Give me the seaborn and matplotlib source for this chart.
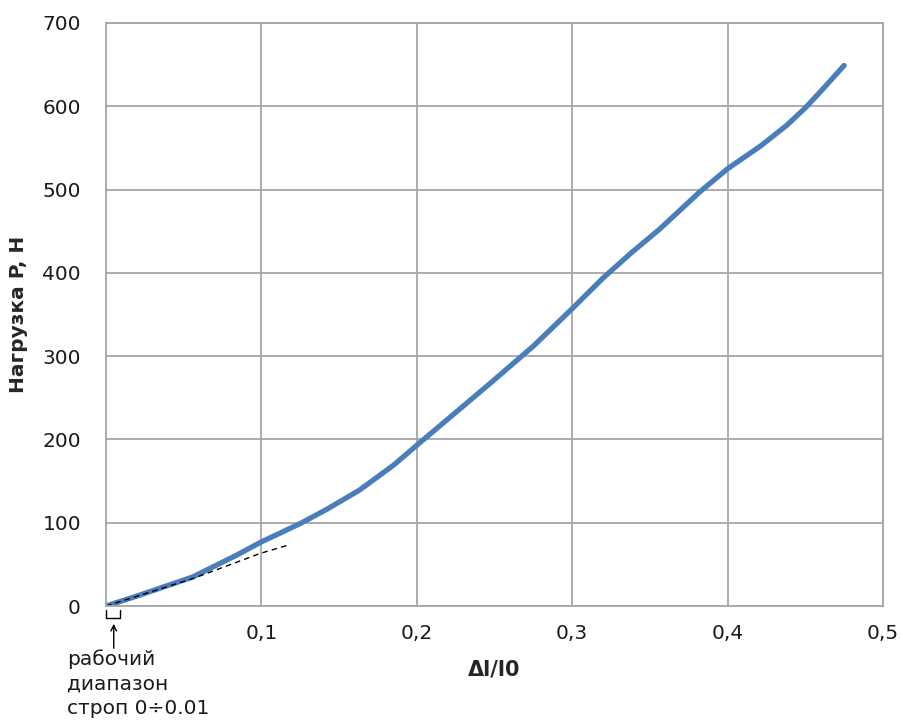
import matplotlib
matplotlib.use("Agg")
import matplotlib.pyplot as plt
from matplotlib import font_manager
import seaborn as sb
import numpy as np
import pandas as pd

# кривая нагрузки
strain = [0.0, 0.02, 0.056, 0.085, 0.1, 0.125, 0.142, 0.163, 0.185, 0.2, 0.228, 0.247,
          0.275, 0.3, 0.32, 0.338, 0.356, 0.382, 0.4, 0.421, 0.438, 0.45, 0.46, 0.475]
load = [0, 12, 35, 62, 77, 99, 116, 139, 169, 193, 237, 267,
        312, 357, 394, 424, 452, 497, 525, 552, 577, 598, 618, 649]

# касательная (пунктир)
tan_x = [0.0, 0.056, 0.099, 0.117]
tan_y = [0, 33, 63, 73]

xticks = [0.1, 0.2, 0.3, 0.4, 0.5]
xtick_labels = ["0,1", "0,2", "0,3", "0,4", "0,5"]
yticks = [0, 100, 200, 300, 400, 500, 600, 700]

df = pd.DataFrame({"strain": strain, "load": load})
tan_df = pd.DataFrame({"x": tan_x, "y": tan_y})

sb.set_style("white")
plt.rcParams['font.family'] = ['DejaVu Sans']

fig = plt.figure(figsize=(9.01, 7.27), dpi=100)
ax = fig.add_axes([0.1176, 0.1664, 0.8624, 0.802])

sb.lineplot(data=df, x="strain", y="load", ax=ax, color="#4a7ebb", linewidth=3.8,
            solid_capstyle="round", solid_joinstyle="round")
sb.lineplot(data=tan_df, x="x", y="y", ax=ax, color="black", linewidth=1.0,
            linestyle=(0, (4, 3)))

ax.set_xlim(0, 0.5)
ax.set_ylim(0, 700)
ax.set_xticks(xticks)
ax.set_xticklabels(xtick_labels)
ax.set_yticks(yticks)
ax.grid(True, color="#a6a6a6", linewidth=1.3)
for s in ax.spines.values():
    s.set_color("#a6a6a6")
    s.set_linewidth(1.3)
ax.tick_params(axis="both", length=0, labelsize=14.5, labelcolor="#1a1a1a")
ax.tick_params(axis="y", pad=18)
ax.tick_params(axis="x", pad=13)

ax.set_xlabel("Δl/l0", fontsize=15, fontweight="bold", labelpad=12)
ax.set_ylabel("Нагрузка P, Н", fontsize=14.5, fontweight="bold",
              family=["DejaVu Sans Condensed", "DejaVu Sans"], labelpad=10)

# рабочий диапазон
ax.plot([0.0, 0.0, 0.009, 0.009], [-5, -14, -14, -5], color="black", lw=1.0, clip_on=False)
ax.annotate("", xy=(0.005, -18), xytext=(0.005, -54),
            arrowprops=dict(arrowstyle="->", color="black", lw=1.0), annotation_clip=False)
ax.text(-0.025, -52, "рабочий\nдиапазон\nстроп 0÷0.01", fontsize=14.5, va="top",
        ha="left", linespacing=1.37, color="#1a1a1a", clip_on=False)

plt.savefig("out.png", dpi=100)
